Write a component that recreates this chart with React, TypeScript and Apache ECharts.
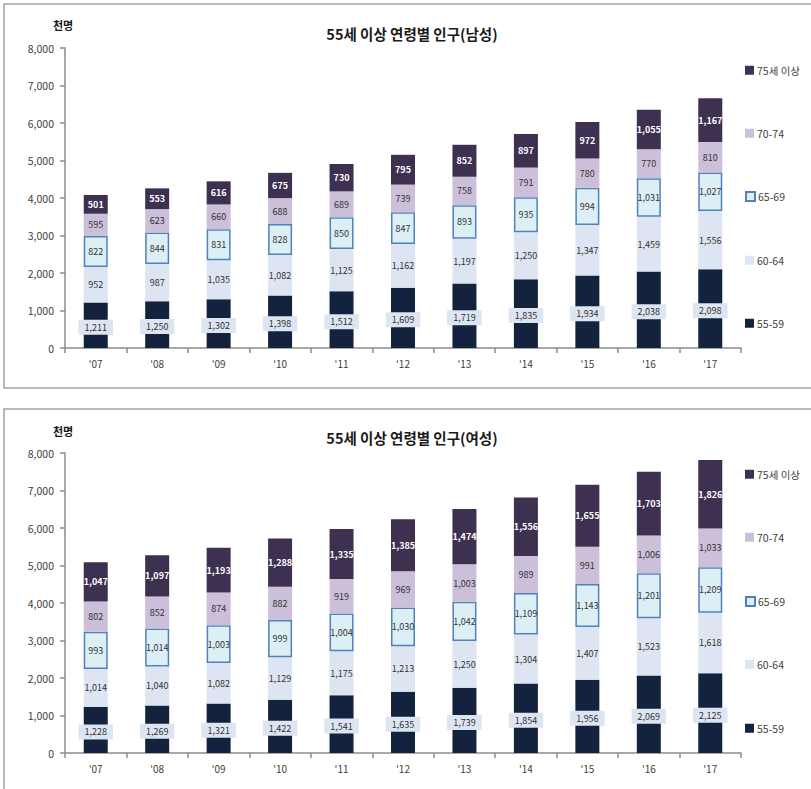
import React, { useEffect, useRef } from "react";
import * as echarts from "echarts";

const years = ["'07", "'08", "'09", "'10", "'11", "'12", "'13", "'14", "'15", "'16", "'17"];
const seriesNames = ["55-59", "60-64", "65-69", "70-74", "75세 이상"];
const legendOrder = ["75세 이상", "70-74", "65-69", "60-64", "55-59"];
const yTicks = [0, 1000, 2000, 3000, 4000, 5000, 6000, 7000, 8000];

const male5559 = [1211, 1250, 1302, 1398, 1512, 1609, 1719, 1835, 1934, 2038, 2098];
const male6064 = [952, 987, 1035, 1082, 1125, 1162, 1197, 1250, 1347, 1459, 1556];
const male6569 = [822, 844, 831, 828, 850, 847, 893, 935, 994, 1031, 1027];
const male7074 = [595, 623, 660, 688, 689, 739, 758, 791, 780, 770, 810];
const male75 = [501, 553, 616, 675, 730, 795, 852, 897, 972, 1055, 1167];

const female5559 = [1228, 1269, 1321, 1422, 1541, 1635, 1739, 1854, 1956, 2069, 2125];
const female6064 = [1014, 1040, 1082, 1129, 1175, 1213, 1250, 1304, 1407, 1523, 1618];
const female6569 = [993, 1014, 1003, 999, 1004, 1030, 1042, 1109, 1143, 1201, 1209];
const female7074 = [802, 852, 874, 882, 919, 969, 1003, 989, 991, 1006, 1033];
const female75 = [1047, 1097, 1193, 1288, 1335, 1385, 1474, 1556, 1655, 1703, 1826];

const titles = ["55세 이상 연령별 인구(남성)", "55세 이상 연령별 인구(여성)"];
const unitLabel = "천명";

const FONT = "'Noto Sans CJK KR', 'Noto Sans', sans-serif";
const fmt = (v: number) => Number(v).toLocaleString("en-US");

const colors = {
  "55-59": "#13233d",
  "60-64": "#dce5f1",
  "65-69": "#dbeff5",
  "70-74": "#cbbfd9",
  "75세 이상": "#3e3050",
};

function buildSeries(gridIdx: number, stack: string, arrays: number[][]) {
  return arrays.map((arr, i) => {
    const name = seriesNames[i];
    const base: any = {
      type: "bar",
      name,
      stack,
      xAxisIndex: gridIdx,
      yAxisIndex: gridIdx,
      barWidth: 24,
      data: arr,
      itemStyle: { color: (colors as any)[name] },
      label: {
        show: true,
        position: "inside",
        fontSize: 9,
        fontFamily: FONT,
        color: "#333",
        formatter: (p: any) => fmt(p.value),
      },
    };
    if (name === "55-59") {
      base.label.backgroundColor = "#dce5f1";
      base.label.padding = [3, 6, 3, 6];
      base.label.offset = [0, 2];
    }
    if (name === "65-69") {
      base.itemStyle.borderColor = "#4f81bd";
      base.itemStyle.borderWidth = 1.5;
    }
    if (name === "75세 이상") {
      base.label.color = "#ffffff";
      base.label.fontWeight = "bold";
    }
    return base;
  });
}

export default function App() {
  const ref = useRef<HTMLDivElement>(null);
  useEffect(() => {
    if (!ref.current) return;
    const chart = echarts.init(ref.current, null, { renderer: "svg" });
    const gridTops = [48, 453];
    const legendCenters = [
      [72, 135, 198, 262, 325],
      [476, 539, 603, 666, 730],
    ];
    const grids = gridTops.map((t) => ({ left: 65, top: t, width: 676, height: 300 }));
    const xAxes = gridTops.map((_, i) => ({
      type: "category",
      gridIndex: i,
      data: years,
      axisLine: { lineStyle: { color: "#8c8c8c", width: 1.5 } },
      axisTick: { show: true, length: 5, lineStyle: { color: "#8c8c8c", width: 1.5 } },
      axisLabel: { fontSize: 10, color: "#404040", margin: 10, fontFamily: FONT },
    }));
    const yAxes = gridTops.map((_, i) => ({
      type: "value",
      gridIndex: i,
      min: yTicks[0],
      max: yTicks[yTicks.length - 1],
      interval: 1000,
      axisLine: { show: true, lineStyle: { color: "#8c8c8c", width: 1.5 } },
      axisTick: { show: true, length: 5, lineStyle: { color: "#8c8c8c", width: 1.5 } },
      splitLine: { show: false },
      axisLabel: {
        fontSize: 10.5,
        color: "#404040",
        margin: 11,
        fontFamily: FONT,
        formatter: (v: number) => fmt(v),
      },
    }));
    const legends: any[] = [];
    legendCenters.forEach((centers) => {
      legendOrder.forEach((n, j) => {
        legends.push({
          data: [n],
          left: 745,
          top: centers[j] - 7,
          icon: "rect",
          itemWidth: 9,
          itemHeight: 9,
          itemGap: 0,
          padding: 0,
          selectedMode: false,
          textStyle: { fontSize: 10.5, color: "#404040", fontFamily: FONT, padding: [0, 0, 0, -2] },
        });
      });
    });
    const graphics: any[] = [
      {
        type: "rect",
        shape: { x: 4, y: 4, width: 830, height: 384 },
        style: { fill: "none", stroke: "#a3a3a3", lineWidth: 1.5 },
        silent: true,
      },
      {
        type: "rect",
        shape: { x: 4, y: 409, width: 830, height: 400 },
        style: { fill: "none", stroke: "#a3a3a3", lineWidth: 1.5 },
        silent: true,
      },
    ];
    [33, 437].forEach((y, i) => {
      graphics.push({
        type: "text",
        x: 412,
        y,
        style: {
          text: titles[i],
          fill: "#1a1a1a",
          font: `bold 14.5px ${FONT}`,
          textAlign: "center",
          textVerticalAlign: "middle",
        },
      });
    });
    [25, 431].forEach((y) => {
      graphics.push({
        type: "text",
        x: 63,
        y,
        style: {
          text: unitLabel,
          fill: "#1a1a1a",
          font: `bold 11px ${FONT}`,
          textAlign: "center",
          textVerticalAlign: "middle",
        },
      });
    });
    chart.setOption({
      animation: false,
      textStyle: { fontFamily: FONT },
      grid: grids,
      xAxis: xAxes,
      yAxis: yAxes,
      legend: legends,
      graphic: graphics,
      series: [
        ...buildSeries(0, "male", [male5559, male6064, male6569, male7074, male75]),
        ...buildSeries(1, "female", [female5559, female6064, female6569, female7074, female75]),
      ],
    });
    return () => chart.dispose();
  }, []);
  return (
    <div
      ref={ref}
      style={{ position: "absolute", left: 0, top: 0, width: 811, height: 789, background: "#fff" }}
    />
  );
}
